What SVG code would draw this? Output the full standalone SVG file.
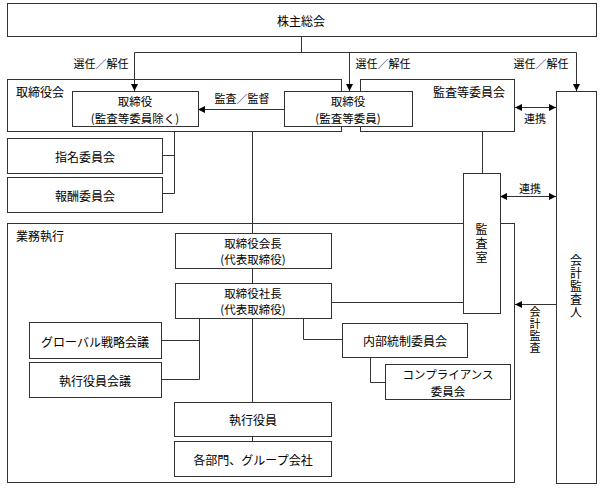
<svg xmlns="http://www.w3.org/2000/svg" width="602" height="489" viewBox="0 0 602 489">
<style>
  .box { fill: #fff; stroke: #333; stroke-width: 1; }
  .grp { fill: none; stroke: #333; stroke-width: 1; }
  .t { font-family: "Noto Sans CJK JP", "Liberation Sans", sans-serif; font-size: 12px; fill: #000; text-anchor: middle; dominant-baseline: central; }
  .t2 { font-family: "Noto Sans CJK JP", "Liberation Sans", sans-serif; font-size: 11.5px; fill: #000; text-anchor: middle; dominant-baseline: central; }
  .l { font-family: "Noto Sans CJK JP", "Liberation Sans", sans-serif; font-size: 11px; fill: #000; text-anchor: middle; dominant-baseline: central; }
  .tl { font-family: "Noto Sans CJK JP", "Liberation Sans", sans-serif; font-size: 12px; fill: #000; dominant-baseline: central; }
  .v { font-family: "Noto Sans CJK JP", "Liberation Sans", sans-serif; font-size: 12px; fill: #000; writing-mode: vertical-rl; text-anchor: middle; letter-spacing: 1px; }
  .c { fill: none; stroke: #333; stroke-width: 1; }
</style>
<defs>
  <marker id="ah" viewBox="0 0 8 8" refX="8" refY="4" markerWidth="7" markerHeight="7" markerUnits="userSpaceOnUse" orient="auto-start-reverse">
    <path d="M0,0 L8,4 L0,8 z" fill="#000"/>
  </marker>
</defs>
<rect width="602" height="489" fill="#fff"/>

<!-- group frames -->
<g id="board">
  <rect class="grp" x="7.5" y="79.5" width="334" height="52"/>
  <text class="tl" x="16" y="91">取締役会</text>
</g>
<g id="audit-committee">
  <rect class="grp" x="360.5" y="79.5" width="154" height="52"/>
  <text class="t" x="469" y="91">監査等委員会</text>
</g>
<g id="execution">
  <rect class="grp" x="7.5" y="223.5" width="507" height="259"/>
  <text class="tl" x="16" y="235">業務執行</text>
</g>

<!-- connectors -->
<g id="connectors">
  <path class="c" d="M301.5 37 V52.5 M134.5 52.5 H576.5"/>
  <path class="c" d="M134.5 52.5 V91" marker-end="url(#ah)"/>
  <path class="c" d="M349.5 52.5 V91" marker-end="url(#ah)"/>
  <path class="c" d="M576.5 52.5 V91" marker-end="url(#ah)"/>
  <path class="c" d="M284 109.5 H198" marker-end="url(#ah)"/>
  <path class="c" d="M515 107.5 H556" marker-start="url(#ah)" marker-end="url(#ah)"/>
  <path class="c" d="M482.5 131 V173"/>
  <path class="c" d="M500 196.5 H556" marker-start="url(#ah)" marker-end="url(#ah)"/>
  <path class="c" d="M174.5 131 V193.5 M162 155.5 H174.5 M162 193.5 H174.5"/>
  <path class="c" d="M252.5 131 V233 M252.5 268 V283 M252.5 318 V402 M252.5 436 V441"/>
  <path class="c" d="M199.5 318 V379.5 M161 340.5 H199.5 M161 379.5 H199.5"/>
  <path class="c" d="M303.5 318 V339.5 H342"/>
  <path class="c" d="M370.5 357 V382.5 H385"/>
  <path class="c" d="M331 302.5 H463"/>
  <path class="c" d="M556 304.5 H515" marker-end="url(#ah)"/>
</g>

<!-- labels -->
<g id="labels">
  <text class="l" x="101" y="63">選任／解任</text>
  <text class="l" x="383" y="63">選任／解任</text>
  <text class="l" x="541" y="63">選任／解任</text>
  <text class="l" x="242" y="98">監査／監督</text>
  <text class="l" x="535" y="118">連携</text>
  <text class="l" x="530" y="188">連携</text>
  <text class="v" x="535" y="330" style="font-size:11px">会計監査</text>
</g>

<!-- nodes -->
<g id="shareholders">
  <rect class="box" x="7.5" y="3.5" width="589" height="33"/>
  <text class="t" x="301" y="20">株主総会</text>
</g>
<g id="director-non-ac">
  <rect class="box" x="72.5" y="91.5" width="126" height="35"/>
  <text class="t2" x="135" y="100.5">取締役</text>
  <text class="t2" x="135" y="117.5">(監査等委員除く)</text>
</g>
<g id="director-ac">
  <rect class="box" x="284.5" y="91.5" width="128" height="35"/>
  <text class="t2" x="348" y="100.5">取締役</text>
  <text class="t2" x="348" y="117.5">(監査等委員)</text>
</g>
<g id="nomination">
  <rect class="box" x="7.5" y="138.5" width="155" height="35"/>
  <text class="t" x="85" y="156">指名委員会</text>
</g>
<g id="compensation">
  <rect class="box" x="7.5" y="177.5" width="155" height="35"/>
  <text class="t" x="85" y="195">報酬委員会</text>
</g>
<g id="audit-office">
  <rect class="box" x="463.5" y="173.5" width="37" height="140"/>
  <text class="v" x="481.5" y="244" style="letter-spacing:2px">監査室</text>
</g>
<g id="auditor">
  <rect class="box" x="556.5" y="91.5" width="40" height="392"/>
  <text class="v" x="576" y="287">会計監査人</text>
</g>
<g id="chairman">
  <rect class="box" x="175.5" y="233.5" width="156" height="35"/>
  <text class="t2" x="253" y="242.5">取締役会長</text>
  <text class="t2" x="253" y="259">(代表取締役)</text>
</g>
<g id="president">
  <rect class="box" x="175.5" y="283.5" width="156" height="35"/>
  <text class="t2" x="253" y="292.5">取締役社長</text>
  <text class="t2" x="253" y="309">(代表取締役)</text>
</g>
<g id="global-strategy">
  <rect class="box" x="29.5" y="322.5" width="132" height="36"/>
  <text class="t" x="95" y="341">グローバル戦略会議</text>
</g>
<g id="exec-officers-meeting">
  <rect class="box" x="29.5" y="362.5" width="132" height="35"/>
  <text class="t" x="95" y="380">執行役員会議</text>
</g>
<g id="internal-control">
  <rect class="box" x="342.5" y="323.5" width="125" height="34"/>
  <text class="t" x="405" y="340">内部統制委員会</text>
</g>
<g id="compliance">
  <rect class="box" x="385.5" y="364.5" width="125" height="35"/>
  <text class="t2" x="448" y="373.5">コンプライアンス</text>
  <text class="t2" x="448" y="390.5">委員会</text>
</g>
<g id="exec-officers">
  <rect class="box" x="174.5" y="402.5" width="157" height="34"/>
  <text class="t" x="253" y="419">執行役員</text>
</g>
<g id="departments">
  <rect class="box" x="174.5" y="441.5" width="157" height="35"/>
  <text class="t" x="253" y="459">各部門、グループ会社</text>
</g>
</svg>
